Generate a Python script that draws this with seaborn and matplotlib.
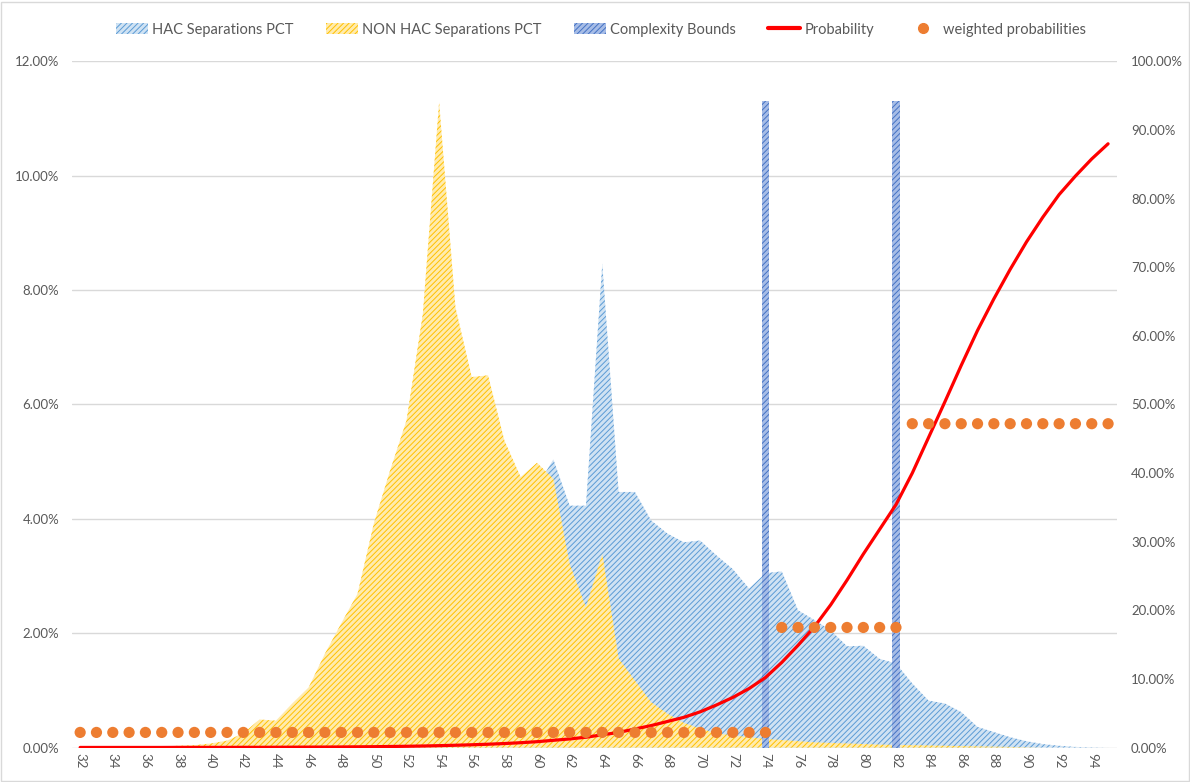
import numpy as np
import matplotlib
matplotlib.use("Agg")
import matplotlib.pyplot as plt
import seaborn as sns
from matplotlib.patches import Patch, Rectangle
from matplotlib.lines import Line2D
from matplotlib.ticker import FuncFormatter

# score buckets on the x axis
score = list(range(32, 96))

# % of separations per score bucket
hac_pct = [0, 0, 0, 0, 0, 0, 0, 0, 0, 0, 0, 0, 0.01, 0.02, 0.04, 0.06,
           0.10, 0.16, 0.25, 0.38, 0.55, 0.80, 1.10, 1.50, 2.00, 2.60, 3.30, 4.00,
           4.56, 5.04, 4.23, 4.23, 8.46, 4.47, 4.47, 3.97, 3.74, 3.59, 3.62, 3.36,
           3.12, 2.78, 3.05, 3.08, 2.40, 2.23, 2.05, 1.77, 1.78, 1.55, 1.47, 1.12,
           0.82, 0.77, 0.62, 0.36, 0.27, 0.18, 0.11, 0.06, 0.03, 0.01, 0.005, 0]
non_hac_pct = [0, 0, 0, 0, 0.005, 0.02, 0.03, 0.04, 0.07, 0.12, 0.25, 0.49, 0.47, 0.77, 1.05, 1.64,
               2.17, 2.69, 3.92, 4.85, 5.72, 7.58, 11.29, 7.70, 6.48, 6.51, 5.37, 4.73,
               4.98, 4.70, 3.21, 2.45, 3.39, 1.56, 1.17, 0.79, 0.59, 0.43, 0.33, 0.25,
               0.21, 0.18, 0.15, 0.13, 0.11, 0.09, 0.08, 0.07, 0.06, 0.05, 0.045, 0.04,
               0.035, 0.03, 0.025, 0.02, 0.015, 0.01, 0.005, 0, 0, 0, 0, 0]

# probability curve (secondary axis, %)
probability = [0.01, 0.01, 0.01, 0.01, 0.01, 0.01, 0.02, 0.02, 0.02, 0.02, 0.03, 0.03, 0.04, 0.05, 0.06, 0.07,
               0.08, 0.10, 0.12, 0.15, 0.18, 0.22, 0.27, 0.33, 0.40, 0.48, 0.58, 0.70,
               0.85, 1.05, 1.25, 1.50, 1.85, 2.20, 2.70, 3.20, 3.80, 4.40, 5.20, 6.20,
               7.30, 8.60, 10.2, 12.4, 14.9, 17.6, 20.8, 24.4, 28.2, 31.8, 35.4, 40.0,
               45.2, 50.4, 55.7, 60.8, 65.4, 69.7, 73.7, 77.3, 80.6, 83.3, 85.8, 88.0]

# weighted probabilities per band (secondary axis, %)
weighted = [2.2] * 43 + [17.5] * 8 + [47.2] * 13

# complexity bounds
bound_scores = [74, 82]
bound_heights = [11.3, 11.3]

grey = "#595959"
sns.set_theme(style="white")
plt.rcParams["font.family"] = ["Lato", "DejaVu Sans"]
plt.rcParams["hatch.linewidth"] = 0.7

fig = plt.figure(figsize=(11.9, 7.82), dpi=100)
ax = fig.add_axes([0.0605, 0.0441, 0.8782, 0.8773])
fig.patches.append(Rectangle((0.001, 0.001), 0.998, 0.997, transform=fig.transFigure,
                             fill=False, edgecolor="#D9D9D9", linewidth=1))

hac_style = dict(facecolor="#CFE2F3", edgecolor="#5B9BD5", hatch="//////", linewidth=0)
non_style = dict(facecolor="#FFEBAD", edgecolor="#FFC000", hatch="//////", linewidth=0)
bound_style = dict(facecolor="#A6BCE6", edgecolor="#4472C4", hatch="//////", linewidth=0)

ax.fill_between(score, hac_pct, 0, zorder=2, **hac_style)
ax.fill_between(score, non_hac_pct, 0, zorder=3, **non_style)
ax.bar(bound_scores, bound_heights, width=0.45, zorder=4, **bound_style)

ax.set_xlim(31.5, 95.55)
ax.set_ylim(0, 12)
ax.set_yticks(np.arange(0, 12.01, 2))
ax.yaxis.set_major_formatter(FuncFormatter(lambda v, p: f"{v:.2f}%"))
ax.set_xticks(list(range(32, 96, 2)))
ax.set_xticklabels([str(s) for s in range(32, 96, 2)], rotation=-90)
ax.grid(axis="y", color="#D9D9D9", linewidth=1)
ax.set_axisbelow(True)
for sp in ax.spines.values():
    sp.set_visible(False)
ax.tick_params(axis="x", colors=grey, labelsize=9.5, length=0, pad=4)
ax.tick_params(axis="y", colors=grey, labelsize=9.5, length=0, pad=9)

ax2 = ax.twinx()
sns.lineplot(x=score, y=probability, ax=ax2, color="#FF0000", linewidth=2.3, zorder=5)
sns.scatterplot(x=score, y=weighted, ax=ax2, color="#ED7D31", s=65, edgecolor="none", zorder=6)
ax2.set_ylim(0, 100)
ax2.set_yticks(np.arange(0, 100.1, 10))
ax2.yaxis.set_major_formatter(FuncFormatter(lambda v, p: f"{v:.2f}%"))
ax2.tick_params(axis="y", colors=grey, labelsize=9.5, length=0, pad=10)
ax2.set_ylabel("")
for sp in ax2.spines.values():
    sp.set_visible(False)

handles = [
    Patch(label="HAC Separations PCT", **hac_style),
    Patch(label="NON HAC Separations PCT", **non_style),
    Patch(label="Complexity Bounds", **bound_style),
    Line2D([], [], color="#FF0000", linewidth=3, label="Probability"),
    Line2D([], [], color="#ED7D31", marker="o", linestyle="none", markersize=7,
           label="weighted probabilities"),
]
fig.legend(handles=handles, loc="center", bbox_to_anchor=(0.505, 0.962), ncol=5,
           frameon=False, fontsize=10.5, labelcolor=grey, handlelength=2.2,
           handleheight=0.8, handletextpad=0.3, columnspacing=2.2)

fig.savefig("out.png", dpi=100)
